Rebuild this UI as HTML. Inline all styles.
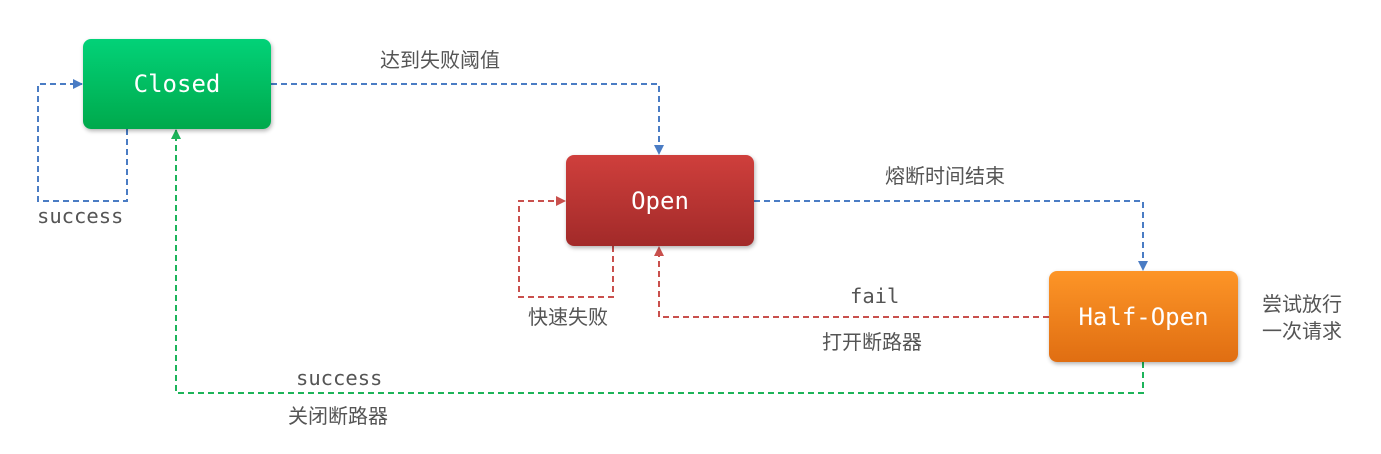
<!DOCTYPE html>
<html><head><meta charset="utf-8"><style>
body{margin:0;background:#fff;width:1381px;height:454px;overflow:hidden;position:relative}
.b{position:absolute;border-radius:8px;color:#fff;font:24px "DejaVu Sans Mono","Liberation Mono",monospace;display:flex;align-items:center;justify-content:center;box-shadow:1px 2px 4px rgba(0,0,0,.3)}
.t{position:absolute;color:#555;font:20px "Liberation Sans","Noto Sans CJK SC",sans-serif;white-space:nowrap}
.m{font-family:"DejaVu Sans Mono","Liberation Mono",monospace;font-size:20.5px}
</style></head><body>
<svg width="1381" height="454" style="position:absolute;left:0;top:0">
<defs>
<marker id="ab" markerWidth="10" markerHeight="10" refX="9" refY="5" orient="auto" markerUnits="userSpaceOnUse"><path d="M0,0L10,5L0,10z" fill="#4a7cc4"/></marker>
<marker id="ar" markerWidth="10" markerHeight="10" refX="9" refY="5" orient="auto" markerUnits="userSpaceOnUse"><path d="M0,0L10,5L0,10z" fill="#c9504d"/></marker>
<marker id="ag" markerWidth="10" markerHeight="10" refX="9" refY="5" orient="auto" markerUnits="userSpaceOnUse"><path d="M0,0L10,5L0,10z" fill="#1db45a"/></marker>
</defs>
<g fill="none" stroke-width="2" stroke-dasharray="6,4">
<path d="M271,84H659V154" stroke="#4a7cc4" marker-end="url(#ab)"/>
<path d="M127,129V201H38V84H82" stroke="#4a7cc4" marker-end="url(#ab)"/>
<path d="M754,201H1143V270" stroke="#4a7cc4" marker-end="url(#ab)"/>
<path d="M613,246V297H519V201H565" stroke="#c9504d" marker-end="url(#ar)"/>
<path d="M1049,317H659V247" stroke="#c9504d" marker-end="url(#ar)"/>
<path d="M1143,362V393H176V130" stroke="#1db45a" marker-end="url(#ag)"/>
</g></svg>
<div class="b" style="left:83px;top:39px;width:188px;height:90px;background:linear-gradient(#02d278,#00a94c)">Closed</div>
<div class="b" style="left:566px;top:155px;width:188px;height:91px;background:linear-gradient(#cf3f3c,#a22a29)">Open</div>
<div class="b" style="left:1049px;top:271px;width:189px;height:91px;background:linear-gradient(#fd9527,#e06e12)">Half-Open</div>
<div class="t" style="left:380px;top:44px">达到失败阈值</div>
<div class="t m" style="left:37px;top:204px">success</div>
<div class="t" style="left:885px;top:160px">熔断时间结束</div>
<div class="t" style="left:528px;top:301px">快速失败</div>
<div class="t m" style="left:850px;top:284px">fail</div>
<div class="t" style="left:822px;top:326px">打开断路器</div>
<div class="t" style="left:1262px;top:292px;line-height:27px">尝试放行<br>一次请求</div>
<div class="t m" style="left:296px;top:366px">success</div>
<div class="t" style="left:288px;top:400px">关闭断路器</div>
</body></html>
